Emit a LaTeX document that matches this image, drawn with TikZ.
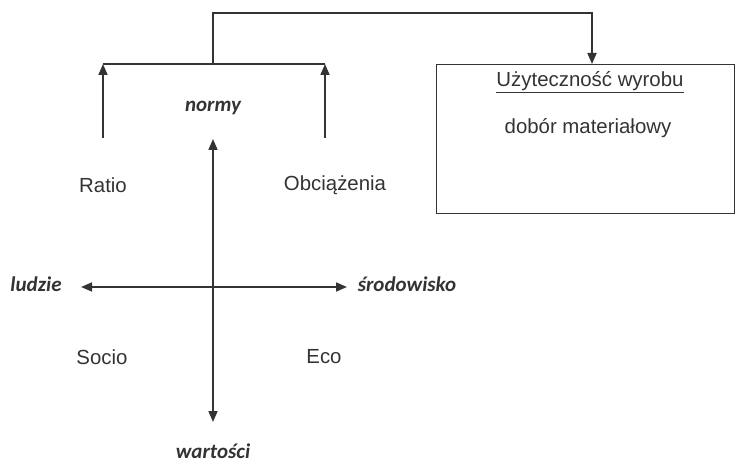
\documentclass[tikz,border=0pt]{standalone}
\usepackage{fontspec}
\setmainfont{Liberation Sans}
\newfontfamily\calib{Carlito}
\usetikzlibrary{arrows.meta}
\definecolor{ink}{HTML}{333333}
\tikzset{
  line/.style={draw=ink, line width=1.7pt},
  arrowhead/.tip={Triangle[width=9pt,length=11pt]},
  tip/.style={-arrowhead},
  lbl/.style={text=ink, font=\fontsize{20.4}{24}\selectfont, inner sep=0pt},
  axis/.style={text=ink, font=\calib\bfseries\itshape\fontsize{21}{24}\selectfont, inner sep=0pt},
}
\begin{document}
\begin{tikzpicture}[x=1pt,y=-1pt]
\useasboundingbox (0,0) rectangle (736,465);

% product box
\node[draw=ink, line width=1.4pt, minimum width=298pt, minimum height=149pt, anchor=north west, inner sep=0pt] (box) at (436,64) {};
\node[lbl] (uzyt) at (590,82) {\underline{Użyteczność wyrobu}};
\node[lbl] (dobor) at (588,128) {dobór materiałowy};

% labels
\node[axis] (normy) at (213,108) {normy};
\node[axis] (ludzie) at (36,284) {ludzie};
\node[axis] (srod) at (407,284) {środowisko};
\node[axis] (wart) at (213,451) {wartości};
\node[lbl] (ratio) at (103,185) {Ratio};
\node[lbl] (obc) at (335,185) {Obciążenia};
\node[lbl] (socio) at (102,357) {Socio};
\node[lbl] (eco) at (324,357) {Eco};

% junction points
\coordinate (jl) at (103,64);
\coordinate (jr) at (325,64);
\coordinate (jm) at (213,64);
\coordinate (top) at (213,13);
\coordinate (topr) at (592,13);
\coordinate (vt) at (213,139);
\coordinate (vb) at (213,422);
\coordinate (hl) at (81,287);
\coordinate (hr) at (347,287);

% bracket joining the two upward arrows
\draw[line] (jl) -- (jr);
\draw[line, tip] (103,138) -- (jl);
\draw[line, tip] (325,138) -- (jr);
\draw[line, tip] (jm) -- (top) -- (topr) -- (box.north -| topr);

% axes
\draw[line, arrowhead-arrowhead] (vb) -- (vt);
\draw[line, arrowhead-arrowhead] (hl) -- (hr);
\end{tikzpicture}
\end{document}
